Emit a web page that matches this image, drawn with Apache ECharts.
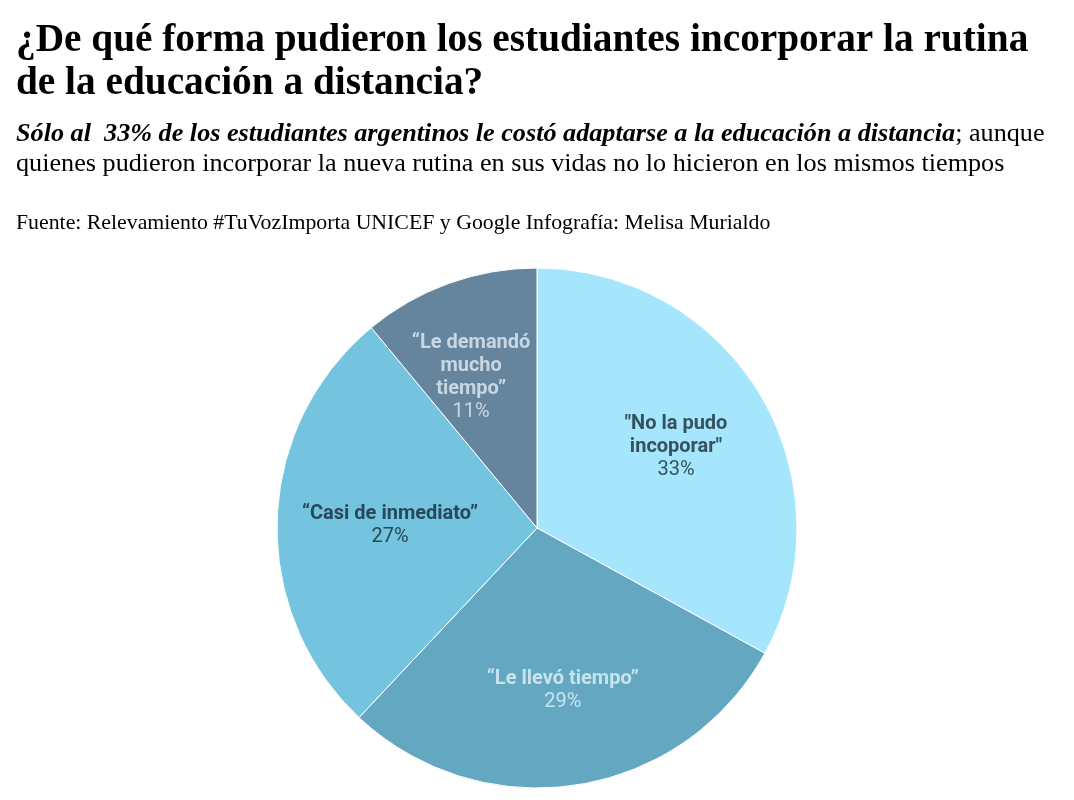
<!DOCTYPE html>
<html>
<head>
<meta charset="utf-8">
<script src="https://cdn.jsdelivr.net/npm/echarts@6/dist/echarts.min.js"></script>
<style>
  html, body { margin: 0; padding: 0; background: #fff; }
  #chart { width: 1074px; height: 800px; }
</style>
</head>
<body>
<div id="chart"></div>
<script>
// datos
var categorias = ['"No la pudo\nincoporar"', '\u201cLe llev\u00f3 tiempo\u201d', '\u201cCasi de inmediato\u201d', '\u201cLe demand\u00f3\nmucho\ntiempo\u201d'];
var valores = [33, 29, 27, 11];
var colores = ['#a6e6fc', '#64a7c1', '#74c4df', '#64859d'];
var coloresTexto = ['#35525e', '#c9e3ed', '#28495a', '#c8d7e1'];
// pequeño ajuste de las etiquetas respecto del centro del sector
var desplazamientos = [[-3, 3], [0, 0], [18, 3], [-10, 5]];

var titulo = '\u00bfDe qu\u00e9 forma pudieron los estudiantes incorporar la rutina\nde la educaci\u00f3n a distancia?';
var bajada1 = 'S\u00f3lo al  33% de los estudiantes argentinos le cost\u00f3 adaptarse a la educaci\u00f3n a distancia';
var bajada2 = '; aunque';
var bajada3 = 'quienes pudieron incorporar la nueva rutina en sus vidas no lo hicieron en los mismos tiempos';
var fuente = 'Fuente: Relevamiento #TuVozImporta UNICEF y Google Infograf\u00eda: Melisa Murialdo';

var chart = echarts.init(document.getElementById('chart'));

var datosTorta = valores.map(function (v, i) {
    return { name: categorias[i], value: v, itemStyle: { color: colores[i] } };
});
var datosEtiquetas = valores.map(function (v, i) {
    return {
        name: categorias[i], value: v,
        label: {
            offset: desplazamientos[i],
            rich: {
                n: { color: coloresTexto[i], fontFamily: 'Roboto', fontWeight: 'bold', fontSize: 20, lineHeight: 23, align: 'center' },
                p: { color: coloresTexto[i], fontFamily: 'Roboto', fontWeight: 'normal', fontSize: 20, lineHeight: 23, align: 'center' }
            }
        }
    };
});

chart.setOption({
    animation: false,
    title: [{
        text: titulo,
        left: 16, top: 19, padding: 0,
        textStyle: { fontFamily: 'Liberation Serif', fontWeight: 'bold', fontSize: 39.3, lineHeight: 43, color: '#000' }
    }, {
        text: '{bi|' + bajada1 + '}{r|' + bajada2 + '}\n{r|' + bajada3 + '}',
        left: 16, top: 119, padding: 0,
        textStyle: {
            rich: {
                bi: { fontFamily: 'Liberation Serif', fontWeight: 'bold', fontStyle: 'italic', fontSize: 26.2, lineHeight: 30, color: '#000' },
                r: { fontFamily: 'Liberation Serif', fontWeight: 'normal', fontSize: 26.2, lineHeight: 30, color: '#000' }
            }
        }
    }, {
        text: fuente,
        left: 16, top: 212, padding: 0,
        textStyle: { fontFamily: 'Liberation Serif', fontWeight: 'normal', fontSize: 21.8, color: '#000' }
    }],
    series: [{
        type: 'pie',
        center: [537, 528],
        radius: [0, 260],
        startAngle: 90,
        clockwise: true,
        silent: true,
        label: { show: false },
        labelLine: { show: false },
        itemStyle: { borderColor: '#ffffff', borderWidth: 1 },
        data: datosTorta
    }, {
        type: 'pie',
        center: [537, 528],
        radius: [64, 260],
        startAngle: 90,
        clockwise: true,
        silent: true,
        itemStyle: { color: 'rgba(0,0,0,0)' },
        label: {
            show: true,
            position: 'inside',
            formatter: function (p) {
                var lineas = p.name.split('\n').map(function (l) { return '{n|' + l + '}'; });
                return lineas.join('\n') + '\n{p|' + p.value + '%}';
            }
        },
        labelLine: { show: false },
        data: datosEtiquetas
    }]
});
</script>
</body>
</html>
